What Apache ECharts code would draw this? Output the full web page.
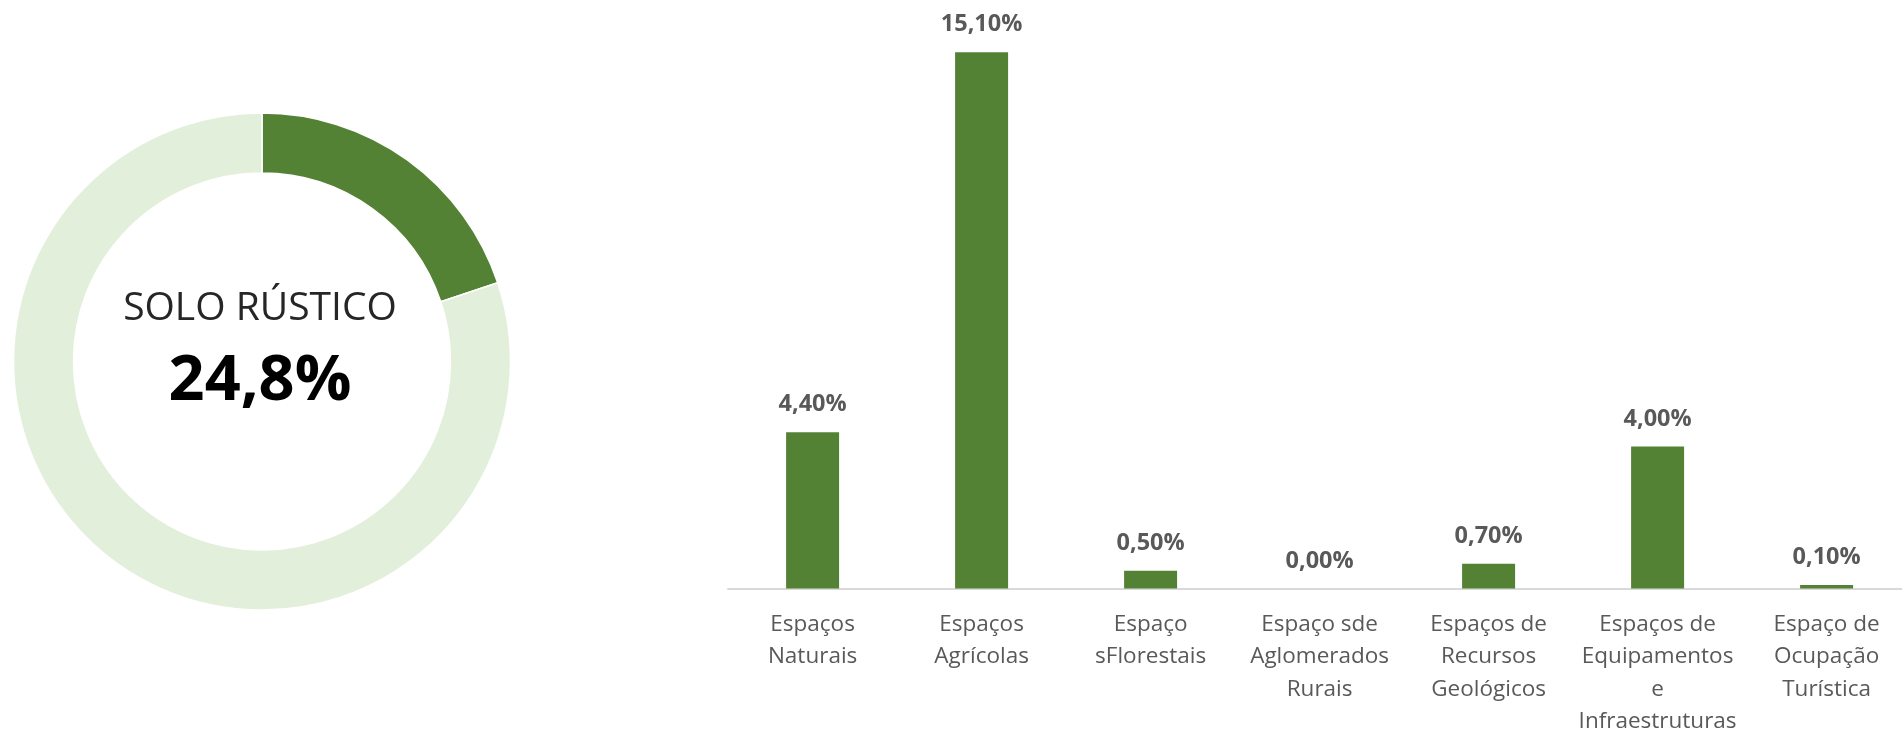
<!DOCTYPE html>
<html>
<head>
<meta charset="utf-8">
<script src="https://cdn.jsdelivr.net/npm/echarts@6/dist/echarts.min.js"></script>
<style>
html,body{margin:0;padding:0;background:#fff;}
#c{width:1902px;height:736px;}
</style>
</head>
<body>
<div id="c"></div>
<script>
// Donut data
const donutNames = ['Solo Rústico', 'Total'];
const donutValues = [24.8, 100];
const donutTitle = 'SOLO RÚSTICO';
const donutValueLabel = '24,8%';

// Bar data
const categories = [
  'Espaços\nNaturais',
  'Espaços\nAgrícolas',
  'Espaço\nsFlorestais',
  'Espaço sde\nAglomerados\nRurais',
  'Espaços de\nRecursos\nGeológicos',
  'Espaços de\nEquipamentos\ne\nInfraestruturas',
  'Espaço de\nOcupação\nTurística'
];
const barValues = [4.4, 15.1, 0.5, 0.0, 0.7, 4.0, 0.1];

const chart = echarts.init(document.getElementById('c'));
const FONT = '"Open Sans", sans-serif';

chart.setOption({
  animation: false,
  backgroundColor: '#ffffff',
  grid: [
    // bar grid: category centres span first..last bar
    { left: 812.6, width: 1014, top: 20.3, bottom: 147.5, containLabel: false, outerBoundsMode: 'none' },
    // baseline grid: full-width axis line
    { left: 728, right: 0, top: 20.3, bottom: 147.5, containLabel: false, outerBoundsMode: 'none' }
  ],
  xAxis: [
    {
      type: 'category',
      gridIndex: 0,
      data: categories,
      boundaryGap: false,
      axisTick: { show: false },
      axisLine: { show: false },
      splitLine: { show: false },
      axisLabel: {
        interval: 0,
        margin: 20,
        fontFamily: FONT,
        fontSize: 22.5,
        lineHeight: 32.3,
        color: '#595959',
        align: 'center'
      }
    },
    {
      type: 'value',
      gridIndex: 1,
      min: 0,
      max: 1,
      axisLabel: { show: false },
      axisTick: { show: false },
      splitLine: { show: false },
      axisLine: { show: true, onZero: false, lineStyle: { color: '#d9d9d9', width: 2 } }
    }
  ],
  yAxis: [
    { type: 'value', gridIndex: 0, min: 0, max: 16, show: false, splitLine: { show: false } },
    { type: 'value', gridIndex: 1, min: 0, max: 16, show: false, splitLine: { show: false } }
  ],
  series: [
    {
      type: 'pie',
      silent: true,
      center: [262, 361.5],
      radius: [188.5, 248.5],
      startAngle: 90,
      clockwise: true,
      label: { show: false },
      labelLine: { show: false },
      emphasis: { disabled: true },
      itemStyle: { borderColor: '#ffffff', borderWidth: 1.5 },
      data: donutValues.map((v, i) => ({
        name: donutNames[i],
        value: v,
        itemStyle: { color: i === 0 ? '#548235' : '#e2efda' }
      }))
    },
    {
      type: 'bar',
      silent: true,
      xAxisIndex: 0,
      yAxisIndex: 0,
      data: barValues,
      barWidth: 53,
      z: 3,
      itemStyle: { color: '#548235' },
      label: {
        show: true,
        position: 'top',
        distance: 15.5,
        fontFamily: FONT,
        fontSize: 23.5,
        fontWeight: 'bold',
        color: '#595959',
        formatter: p => p.value.toFixed(2).replace('.', ',') + '%'
      }
    }
  ],
  graphic: [
    {
      type: 'text',
      silent: true,
      style: {
        text: donutTitle,
        x: 260,
        y: 308.5,
        align: 'center',
        verticalAlign: 'middle',
        fontFamily: FONT,
        fontSize: 39,
        fill: '#262626'
      }
    },
    {
      type: 'text',
      silent: true,
      style: {
        text: donutValueLabel,
        x: 260,
        y: 382,
        align: 'center',
        verticalAlign: 'middle',
        fontFamily: FONT,
        fontSize: 63,
        fontWeight: 'bold',
        fill: '#000000'
      }
    }
  ]
});
</script>
</body>
</html>
